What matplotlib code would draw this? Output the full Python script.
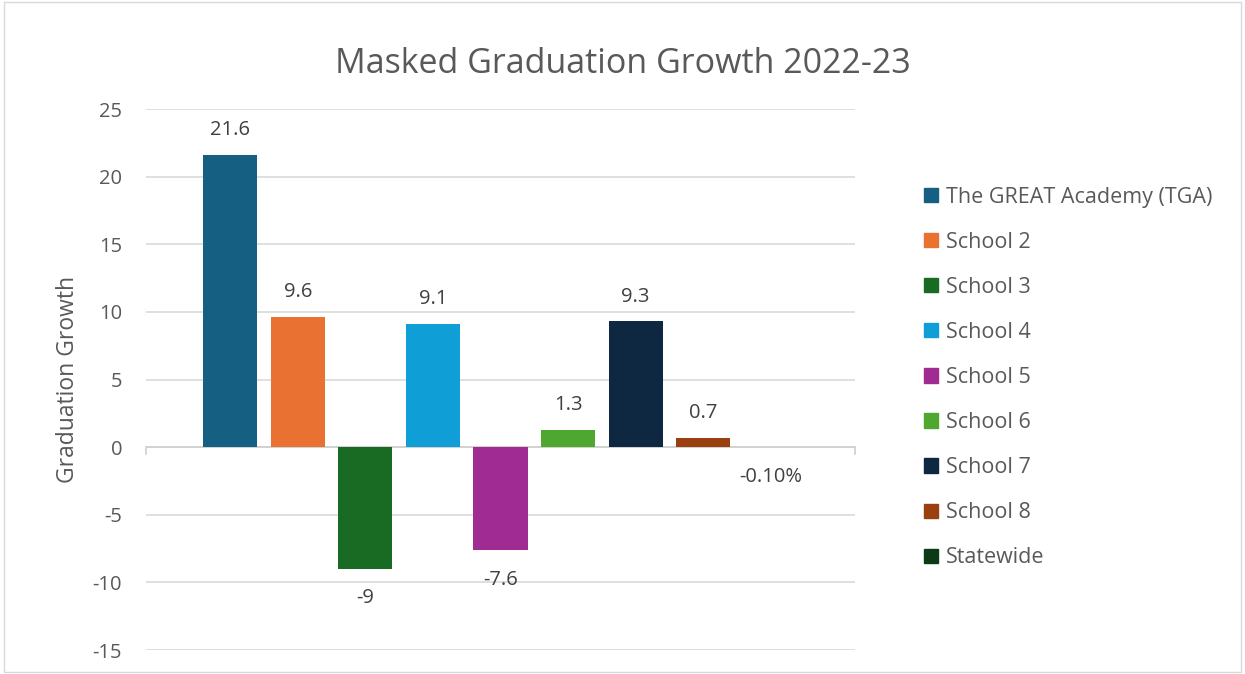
import matplotlib.pyplot as plt
from matplotlib.patches import Patch

schools = ['The GREAT Academy (TGA)', 'School 2', 'School 3', 'School 4', 'School 5',
           'School 6', 'School 7', 'School 8', 'Statewide']
growth = [21.6, 9.6, -9, 9.1, -7.6, 1.3, 9.3, 0.7, -0.001]
labels = ['21.6', '9.6', '-9', '9.1', '-7.6', '1.3', '9.3', '0.7', '-0.10%']
colors = ['#156082', '#E97132', '#196B24', '#0F9ED5', '#A02B93',
          '#4EA72E', '#0E2841', '#9A3F10', '#0D3A16']

plt.rcParams['font.family'] = ['Open Sans', 'DejaVu Sans']
plt.rcParams['axes.unicode_minus'] = False
txt = '#595959'

fig = plt.figure(figsize=(12.45, 6.74), dpi=100)
ax = fig.add_axes([0.117, 0.0356, 0.570, 0.8026])

x = range(len(growth))
ax.bar(x, growth, width=0.8, color=colors, zorder=3)

for i, v in enumerate(growth):
    if v >= 0:
        ax.text(i, v + 1.1, labels[i], ha='center', va='bottom', fontsize=14.5, color='#404040')
    else:
        ax.text(i, v - 1.45, labels[i], ha='center', va='top', fontsize=14.5, color='#404040')

ax.set_ylim(-15, 25)
ax.set_xlim(-1.25, 9.25)
ax.set_yticks(range(-15, 26, 5))
ax.set_xticks([])
ax.yaxis.grid(True, color='#d9d9d9', linewidth=1.2, zorder=0)
ax.axhline(0, color='#d0d0d0', linewidth=1.2, zorder=2)
ax.plot([9.25, 9.25], [0, -0.5], color='#d0d0d0', linewidth=1.2, clip_on=False)
ax.plot([-1.25, -1.25], [0, -0.5], color='#d0d0d0', linewidth=1.2, clip_on=False)
for s in ax.spines.values():
    s.set_visible(False)
ax.tick_params(axis='y', length=0, pad=17, labelsize=14.5, labelcolor=txt)
ax.set_ylabel('Graduation Growth', fontsize=16.5, color=txt, labelpad=9)

fig.text(0.5, 0.905, 'Masked Graduation Growth 2022-23', ha='center', va='center',
         fontsize=24.5, color=txt)

handles = [Patch(color=c) for c in colors]
fig.legend(handles, schools, loc='upper left', bbox_to_anchor=(0.727, 0.752),
           frameon=False, fontsize=15.5, labelcolor=txt, handlelength=0.65,
           handleheight=0.65, handletextpad=0.35, labelspacing=1.12)

fig.patches.append(plt.Rectangle((0.003, 0.003), 0.994, 0.994, transform=fig.transFigure,
                                 fill=False, edgecolor='#d9d9d9', linewidth=1))

fig.savefig('out.png', dpi=100)
